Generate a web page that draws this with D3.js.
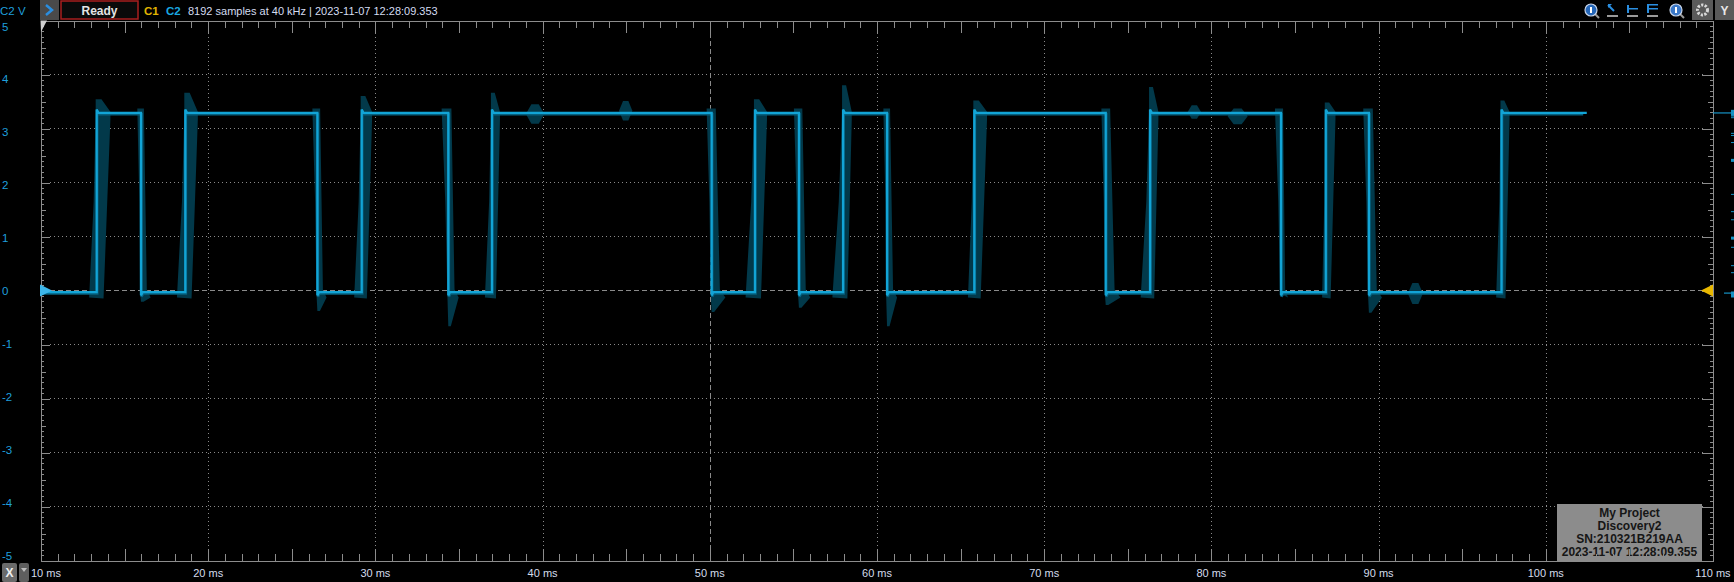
<!DOCTYPE html>
<html>
<head>
<meta charset="utf-8">
<script src="https://cdn.jsdelivr.net/npm/d3@7"></script>
<style>
  html, body { margin: 0; padding: 0; background: #000; overflow: hidden; }
  svg { display: block; font-family: "Liberation Sans", "DejaVu Sans", sans-serif; }
</style>
</head>
<body>
<script>
// C2 edge times in ms, first one is a rising edge, then they alternate
var edgeTimes = [13.33, 15.98, 18.63, 26.53, 29.18, 34.36, 36.97, 50.11, 52.70, 55.33,
                 57.97, 60.60, 65.82, 73.68, 76.33, 84.16, 86.84, 89.42, 97.35];
// overshoot (rise) / undershoot (fall) of the ghost envelope, volts
var envPeak = [3.54, -0.21, 3.66, -0.38, 3.60, -0.66, 3.66, -0.40, 3.54, -0.32,
               3.80, -0.66, 3.52, -0.27, 3.77, -0.09, 3.48, -0.41, 3.52];
// how far the envelope spreads before / after each edge, ms
var envLead = [0.45, 0.22, 0.50, 0.30, 0.45, 0.40, 0.42, 0.30, 0.56, 0.30,
               0.64, 0.22, 0.38, 0.26, 0.56, 0.36, 0.22, 0.34, 0.32];
var envLag  = [0.82, 0.58, 0.75, 0.55, 0.62, 0.62, 0.48, 0.82, 0.72, 0.68,
               0.52, 0.60, 0.76, 0.88, 0.50, 0.42, 0.58, 0.78, 0.48];
var traceStart = 10, traceEnd = 102.45, envEnd = 102.2;
var levelHigh = 3.29, levelLow = -0.03;

// small glitches on the flat parts of the envelope
var bumpTimes  = [39.55, 44.97, 78.98, 81.57, 92.20];
var bumpTop    = [3.45, 3.51, 3.43, 3.37, 0.14];
var bumpBottom = [3.09, 3.15, 3.18, 3.08, -0.25];
var bumpHalf   = [0.55, 0.40, 0.40, 0.60, 0.45];

// level histogram marks on the right edge (volts)
var histLevels = [3.23, 3.20, 2.91, 2.87, 2.74, 2.41, 1.78, 1.46, 1.31, 0.97, 0.80, 0.46, 0.33];
var histBig = [2.41, 0.97];

var timeLabels = [10, 20, 30, 40, 50, 60, 70, 80, 90, 100, 110];
var voltLabels = [5, 4, 3, 2, 1, 0, -1, -2, -3, -4, -5];
var infoLines = ["My Project", "Discovery2", "SN:210321B219AA", "2023-11-07 12:28:09.355"];

// ---- layout ----
var W = 1734, H = 582;
var x = d3.scaleLinear().domain([10, 110]).range([41, 1713]);
var y = d3.scaleLinear().domain([-5, 5]).range([560.5, 20.5]);
// the scope spreads its voltage labels a bit tighter than the grid
var yLab = d3.scaleLinear().domain([5, -5]).range([26.5, 556]);

var gridCol = "#8a8a8a", axisCol = "#8c8c8c";

var svg = d3.select("body").append("svg")
    .attr("width", W).attr("height", H)
    .style("background", "#000");

// grid
var grid = svg.append("g");
grid.selectAll(".hg")
    .data(voltLabels.filter(function(v) { return v > -5 && v < 5; }))
  .enter().append("line")
    .attr("x1", 50).attr("x2", 1703)
    .attr("y1", function(d) { return y(d); })
    .attr("y2", function(d) { return y(d); })
    .attr("stroke", gridCol).attr("stroke-width", 1)
    .attr("stroke-dasharray", function(d) { return d === 0 ? "5,3" : "1,3"; });
grid.selectAll(".vg")
    .data(timeLabels.filter(function(t) { return t > 10 && t < 110; }))
  .enter().append("line")
    .attr("x1", function(d) { return Math.round(x(d)) + 0.5; })
    .attr("x2", function(d) { return Math.round(x(d)) + 0.5; })
    .attr("y1", 33).attr("y2", 549)
    .attr("stroke", gridCol).attr("stroke-width", 1)
    .attr("stroke-dasharray", function(d) { return d === 50 ? "5,3" : "1,3"; });

// ---- envelope (dark ghost trace) ----
var env = svg.append("g").attr("fill", "#02394a");
var poly = d3.line()
    .x(function(d) { return x(d[0]); })
    .y(function(d) { return y(d[1]); });

edgeTimes.forEach(function(t, i) {
  var a = envLead[i], b = envLag[i], p = envPeak[i], pts;
  if (i % 2 === 0) {
    // rising edge: slanted band with overshoot spike on top
    pts = [[t - a, levelLow - 0.1], [t - 0.4 * a, levelHigh * 0.5], [t - 0.06, levelHigh], [t - 0.06, p],
           [t + 0.35 * b, p], [t + b, levelHigh + 0.02], [t + b, levelHigh - 0.12],
           [t + 0.5 * b, levelLow - 0.12]];
  } else {
    // falling edge: slanted band with undershoot spike below
    pts = [[t - a, levelHigh + 0.08], [t + 0.3 * b, levelHigh + 0.08],
           [t + 0.6 * b, levelLow + 0.05], [t + b, levelLow - 0.1],
           [t + 0.15, p], [t, p], [t - 0.06, levelLow], [t - 0.45 * a, levelHigh * 0.5]];
  }
  env.append("path").attr("d", poly(pts) + "Z");
});

bumpTimes.forEach(function(t, i) {
  var w = bumpHalf[i], mid = (bumpTop[i] + bumpBottom[i]) / 2;
  var pts = [[t - w, mid], [t - 0.4 * w, bumpTop[i]], [t + 0.4 * w, bumpTop[i]],
             [t + w, mid], [t + 0.4 * w, bumpBottom[i]], [t - 0.4 * w, bumpBottom[i]]];
  env.append("path").attr("d", poly(pts) + "Z");
});

// ---- main C2 trace ----
var tracePts = [[traceStart, levelLow]];
var level = levelLow;
edgeTimes.forEach(function(t, i) {
  var rise = i % 2 === 0;
  var next = rise ? levelHigh : levelLow;
  tracePts.push([t, level]);
  tracePts.push([t, next + (rise ? 0.06 : -0.06)]);
  tracePts.push([t + 0.1, next]);
  level = next;
});
tracePts.push([traceEnd, level]);

var line = d3.line()
    .x(function(d) { return x(d[0]); })
    .y(function(d) { return y(d[1]); });

// darker ghost copy just under the bright trace
svg.append("path")
    .attr("d", line(tracePts.filter(function(d) { return d[0] <= envEnd; }).concat([[envEnd, levelHigh]])))
    .attr("transform", "translate(0.6,1.3)")
    .attr("fill", "none").attr("stroke", "#06607e").attr("stroke-width", 2.5);
svg.append("path")
    .attr("d", line(tracePts))
    .attr("fill", "none").attr("stroke", "#12a4d6").attr("stroke-width", 2.3);

// ---- axes / frame ----
function styleAxis(g) {
  g.selectAll("path,line").attr("stroke", axisCol).attr("stroke-width", 1).attr("shape-rendering", "crispEdges");
  g.selectAll("text").remove();
}
var minorT = [], majorT = [];
for (var t = 10; t <= 110; t++) (t % 5 === 0 ? majorT : minorT).push(t);
var minorV = [], midV = [], majorV = [];
for (var k = -50; k <= 50; k++) {
  if (k % 10 === 0) majorV.push(k / 10);
  else if (k % 5 === 0) midV.push(k / 10);
  else minorV.push(k / 10);
}

[[minorT, 7], [majorT, 12]].forEach(function(s) {
  svg.append("g").attr("transform", "translate(0," + y(-5) + ")")
     .call(d3.axisTop(x).tickValues(s[0]).tickSize(s[1]).tickSizeOuter(0)).call(styleAxis);
  svg.append("g").attr("transform", "translate(0," + y(5) + ")")
     .call(d3.axisBottom(x).tickValues(s[0]).tickSize(s[1]).tickSizeOuter(0)).call(styleAxis);
});
[[minorV, 3, 3], [midV, 5, 5], [majorV, 9, 11]].forEach(function(s) {
  svg.append("g").attr("transform", "translate(" + x(10) + ",0)")
     .call(d3.axisRight(y).tickValues(s[0]).tickSize(s[1]).tickSizeOuter(0)).call(styleAxis);
  svg.append("g").attr("transform", "translate(" + x(110) + ",0)")
     .call(d3.axisLeft(y).tickValues(s[0]).tickSize(s[2]).tickSizeOuter(0)).call(styleAxis);
});

// axis labels
svg.append("g").selectAll("text")
    .data(voltLabels)
  .enter().append("text")
    .attr("x", 2).attr("y", function(d) { return yLab(d); })
    .attr("dy", "0.35em")
    .attr("fill", "#1f9fdc").attr("font-size", 11.5)
    .text(function(d) { return d; });

svg.append("g").selectAll("text")
    .data(timeLabels)
  .enter().append("text")
    .attr("x", function(d) { return d === 10 ? 31 : x(d); })
    .attr("y", 577)
    .attr("text-anchor", function(d) { return d === 10 ? "start" : "middle"; })
    .attr("fill", "#d4dcec").attr("font-size", 11)
    .text(function(d) { return d + " ms"; });

// channel / trigger markers
svg.append("path")
    .attr("d", "M40," + (y(0) - 6) + "L52," + y(0) + "L40," + (y(0) + 6) + "Z")
    .attr("fill", "#3cb6ea");
svg.append("path")
    .attr("d", "M1713," + (y(0) - 6) + "L1701," + y(0) + "L1713," + (y(0) + 6) + "Z")
    .attr("fill", "#e8b800");
svg.append("path")
    .attr("d", "M40.5,20.5L47,20.5L41,32Z")
    .attr("fill", "#d0d0d0");

// right side level histogram
var hist = svg.append("g").attr("fill", "#1592c4");
hist.append("rect").attr("x", 1713).attr("y", y(levelHigh) - 0.5).attr("width", 21).attr("height", 1.2);
hist.append("rect").attr("x", 1731).attr("y", y(levelHigh) - 3).attr("width", 3).attr("height", 6);
hist.append("rect").attr("x", 1724).attr("y", y(0) + 2).attr("width", 10).attr("height", 1.2);
hist.append("rect").attr("x", 1731).attr("y", y(0) + 1).attr("width", 3).attr("height", 6);
hist.selectAll(".hm")
    .data(histLevels)
  .enter().append("rect")
    .attr("x", 1731)
    .attr("y", function(d) { return y(d) - (histBig.indexOf(d) >= 0 ? 1.5 : 0.5); })
    .attr("width", 3)
    .attr("height", function(d) { return histBig.indexOf(d) >= 0 ? 3 : 1; });

// info box
var info = svg.append("g");
info.append("rect")
    .attr("x", 1557).attr("y", 504).attr("width", 145).attr("height", 57)
    .attr("fill", "#8c8c8c");
info.selectAll("text")
    .data(infoLines)
  .enter().append("text")
    .attr("x", 1629.5)
    .attr("y", function(d, i) { return 517 + i * 13; })
    .attr("text-anchor", "middle")
    .attr("font-size", 12).attr("font-weight", "bold")
    .attr("fill", "#161616")
    .text(function(d) { return d; });
// bottom ticks drawn over the box like in the capture
svg.append("g").attr("transform", "translate(0," + y(-5) + ")")
   .call(d3.axisTop(x).tickValues(minorT.filter(function(t) { return t > 101; })).tickSize(7).tickSizeOuter(0))
   .call(styleAxis);
svg.append("g").attr("transform", "translate(0," + y(-5) + ")")
   .call(d3.axisTop(x).tickValues([105]).tickSize(12).tickSizeOuter(0))
   .call(styleAxis);

// ---- top toolbar ----
var bar = svg.append("g");
bar.append("text").attr("x", 0).attr("y", 15).attr("fill", "#1f9fdc").attr("font-size", 11.5).text("C2 V");
bar.append("rect").attr("x", 40).attr("y", 0).attr("width", 19).attr("height", 20).attr("fill", "#4a4a4a");
bar.append("path").attr("d", "M46,5L52,10L46,15").attr("fill", "none").attr("stroke", "#2a8ee0").attr("stroke-width", 2.5);
bar.append("rect").attr("x", 61).attr("y", 1).attr("width", 77).attr("height", 18)
   .attr("fill", "#0a0a0a").attr("stroke", "#a81f1f").attr("stroke-width", 1.5);
bar.append("text").attr("x", 99.5).attr("y", 15).attr("text-anchor", "middle")
   .attr("fill", "#e4e4e4").attr("font-size", 12).attr("font-weight", "bold").text("Ready");
bar.append("text").attr("x", 144).attr("y", 15).attr("fill", "#e0b400").attr("font-size", 11.5).attr("font-weight", "bold").text("C1");
bar.append("text").attr("x", 166).attr("y", 15).attr("fill", "#19a8e0").attr("font-size", 11.5).attr("font-weight", "bold").text("C2");
bar.append("text").attr("x", 188).attr("y", 15).attr("fill", "#d4dcf0").attr("font-size", 11)
   .text("8192 samples at 40 kHz | 2023-11-07 12:28:09.353");

// right-hand tool icons
function lens(cx, fill) {
  bar.append("line").attr("x1", cx + 4).attr("y1", 14).attr("x2", cx + 8).attr("y2", 18).attr("stroke", "#9a9a9a").attr("stroke-width", 2);
  bar.append("circle").attr("cx", cx).attr("cy", 10).attr("r", 6).attr("fill", fill).attr("stroke", "#c8d4e8").attr("stroke-width", 1.2);
  bar.append("rect").attr("x", cx - 1).attr("y", 7).attr("width", 2).attr("height", 6).attr("fill", "#ffffff");
}
lens(1591, "#2466b8");
lens(1676, "#3a78c8");
[1612, 1632, 1652].forEach(function(cx, i) {
  bar.append("rect").attr("x", cx - 5).attr("y", 15).attr("width", 11).attr("height", 2).attr("fill", "#9a9a9a");
  if (i === 0) {
    bar.append("path").attr("d", "M" + (cx - 4) + ",5L" + (cx + 2) + ",11").attr("stroke", "#2a8ee0").attr("stroke-width", 2);
    bar.append("path").attr("d", "M" + (cx - 4) + ",4L" + (cx) + ",4L" + (cx - 4) + ",8Z").attr("fill", "#2a8ee0");
  } else {
    bar.append("rect").attr("x", cx - 5).attr("y", 5).attr("width", 2).attr("height", 8).attr("fill", "#2a8ee0");
    bar.append("rect").attr("x", cx - 5).attr("y", 8).attr("width", 11).attr("height", 1.5).attr("fill", "#2a8ee0");
    if (i === 2) bar.append("rect").attr("x", cx - 5).attr("y", 4).attr("width", 11).attr("height", 1.5).attr("fill", "#2a8ee0");
  }
});
bar.append("rect").attr("x", 1692).attr("y", 0).attr("width", 21).attr("height", 20).attr("fill", "#5a5a5a");
bar.append("circle").attr("cx", 1702.5).attr("cy", 10).attr("r", 5).attr("fill", "none").attr("stroke", "#d8d8d8").attr("stroke-width", 3).attr("stroke-dasharray", "2.2,1.4");
bar.append("circle").attr("cx", 1702.5).attr("cy", 10).attr("r", 2).attr("fill", "#5a5a5a");
bar.append("rect").attr("x", 1715).attr("y", 0).attr("width", 19).attr("height", 20).attr("fill", "#5a5a5a");
bar.append("text").attr("x", 1724.5).attr("y", 15).attr("text-anchor", "middle").attr("fill", "#e8e8e8")
   .attr("font-size", 12).attr("font-weight", "bold").text("Y");

// ---- bottom left X button ----
svg.append("rect").attr("x", 2).attr("y", 563).attr("width", 15).attr("height", 19).attr("rx", 2).attr("fill", "#6a6a6a");
svg.append("text").attr("x", 9.5).attr("y", 577).attr("text-anchor", "middle").attr("fill", "#f0f0f0")
   .attr("font-size", 12).attr("font-weight", "bold").text("X");
svg.append("rect").attr("x", 19).attr("y", 563).attr("width", 10).attr("height", 19).attr("rx", 2).attr("fill", "#5e5e5e");
svg.append("path").attr("d", "M21,568L27,568L24,572Z").attr("fill", "#bdbdbd");
</script>
</body>
</html>
